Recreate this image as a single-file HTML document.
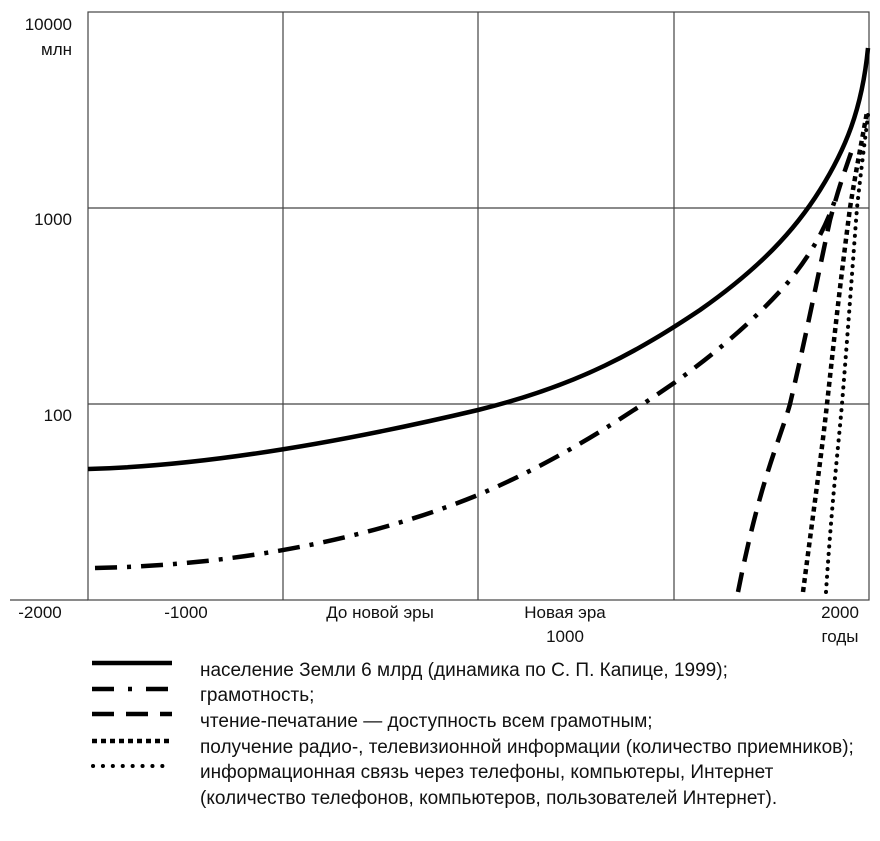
<!DOCTYPE html>
<html><head><meta charset="utf-8"><style>body{margin:0;background:#fff}svg{display:block}</style></head>
<body>
<svg width="880" height="841" xmlns="http://www.w3.org/2000/svg" font-family="Liberation Sans, sans-serif">
<rect width="880" height="841" fill="#fff"/>
<g stroke="#444" stroke-width="1.2" fill="none">
<rect x="88" y="12" width="781" height="588"/>
<line x1="283" y1="12" x2="283" y2="600"/>
<line x1="478" y1="12" x2="478" y2="600"/>
<line x1="674" y1="12" x2="674" y2="600"/>
<line x1="88" y1="208" x2="869" y2="208"/>
<line x1="88" y1="404" x2="869" y2="404"/>
<line x1="10" y1="600" x2="88" y2="600"/>
</g>
<g font-size="17" fill="#111">
<text x="72" y="30" text-anchor="end">10000</text>
<text x="72" y="55" text-anchor="end">млн</text>
<text x="72" y="225" text-anchor="end">1000</text>
<text x="72" y="421" text-anchor="end">100</text>
<text x="40" y="618" text-anchor="middle">-2000</text>
<text x="186" y="618" text-anchor="middle">-1000</text>
<text x="380" y="618" text-anchor="middle">До новой эры</text>
<text x="565" y="618" text-anchor="middle">Новая эра</text>
<text x="565" y="642" text-anchor="middle">1000</text>
<text x="840" y="618" text-anchor="middle">2000</text>
<text x="840" y="642" text-anchor="middle">годы</text>
</g>
<g fill="none" stroke="#000">
<path d="M88,469 C200,466 330,445 478,410 C580,385 640,350 700,310 C760,268 795,230 820,190 C845,150 862,110 868,48" stroke-width="4.5"/>
<path d="M95,568 C250,565 380,535 478,495 C560,460 620,420 674,383 C720,350 760,315 790,280 C810,255 825,230 835,200" stroke-width="4.5" stroke-dasharray="22,10,4,10"/>
<path d="M738,592 C760,480 780,440 790,404 C805,340 815,290 830,220 C838,190 845,170 852,150" stroke-width="4.5" stroke-dasharray="20,11"/>
<path d="M803,592 C815,500 822,450 827,404 C833,350 838,300 850,208 C856,170 862,140 867,112" stroke-width="4.5" stroke-dasharray="5,4"/>
<path d="M826,592 C832,500 838,450 842,404 C848,330 853,260 857,208 C861,170 865,140 868,115" stroke-width="4" stroke-dasharray="0.1,7.5" stroke-linecap="round"/>
</g>
<g stroke="#000" stroke-width="4.5">
<line x1="92" y1="663" x2="172" y2="663"/>
<line x1="92" y1="689" x2="172" y2="689" stroke-dasharray="22,14,4,14"/>
<line x1="92" y1="714" x2="172" y2="714" stroke-dasharray="22,12,22,12"/>
<line x1="92" y1="741" x2="172" y2="741" stroke-dasharray="5,4"/>
<line x1="93" y1="766" x2="172" y2="766" stroke-width="4" stroke-dasharray="0.1,9.8" stroke-linecap="round"/>
</g>
<g font-size="19" fill="#111">
<text x="200" y="676">население Земли 6 млрд (динамика по С. П. Капице, 1999);</text>
<text x="200" y="701">грамотность;</text>
<text x="200" y="727">чтение-печатание — доступность всем грамотным;</text>
<text x="200" y="753">получение радио-, телевизионной информации (количество приемников);</text>
<text x="200" y="778">информационная связь через телефоны, компьютеры, Интернет</text>
<text x="200" y="804">(количество телефонов, компьютеров, пользователей Интернет).</text>
</g>
</svg>
</body></html>
